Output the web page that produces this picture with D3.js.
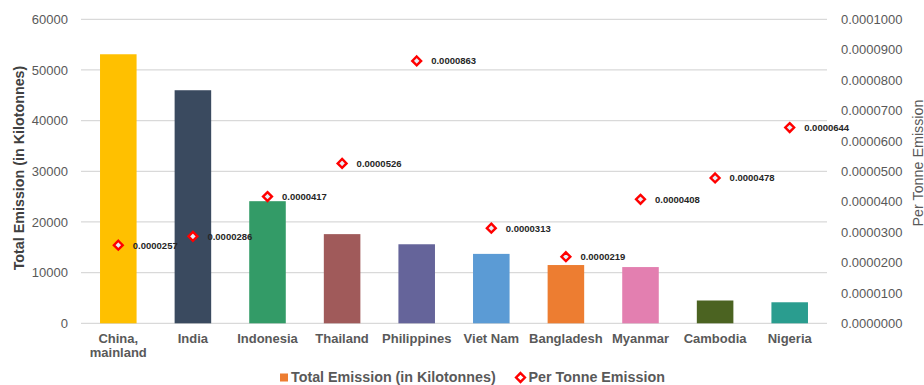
<!DOCTYPE html>
<html>
<head>
<meta charset="utf-8">
<script src="https://cdn.jsdelivr.net/npm/d3@7"></script>
<style>
  html, body { margin: 0; padding: 0; background: #fff; }
  svg { display: block; font-family: "Liberation Sans", Arial, sans-serif; }
</style>
</head>
<body>
<svg id="chart" width="924" height="385"></svg>
<script>
// Countries along the x axis (a line break in a name is written as "\n")
const categories = ["China,\nmainland", "India", "Indonesia", "Thailand", "Philippines",
                    "Viet Nam", "Bangladesh", "Myanmar", "Cambodia", "Nigeria"];
// Total emission, kilotonnes (bars, left axis)
const totalEmission = [53100, 46000, 24100, 17600, 15600, 13700, 11500, 11100, 4500, 4150];
// Emission per tonne (markers, right axis)
const perTonne = [0.0000257, 0.0000286, 0.0000417, 0.0000526, 0.0000863,
                  0.0000313, 0.0000219, 0.0000408, 0.0000478, 0.0000644];
// One fill per bar
const barColors = ["#FFC000", "#3A4A5F", "#339B67", "#A05A5A", "#65649A",
                   "#5B9BD5", "#ED7D31", "#E37FB0", "#4B6321", "#2A9D8F"];
const leftTicks = [0, 10000, 20000, 30000, 40000, 50000, 60000];
const rightTicks = [0, 0.00001, 0.00002, 0.00003, 0.00004, 0.00005,
                    0.00006, 0.00007, 0.00008, 0.00009, 0.0001];
const seriesNames = ["Total Emission (in Kilotonnes)", "Per Tonne Emission"];

const svg = d3.select("#chart");
const plot = { left: 81, right: 827, top: 19.3, bottom: 323.3 };
const axisGrey = "#595959";

const x = d3.scaleBand().domain(categories).range([plot.left, plot.right]).paddingInner(0.51).paddingOuter(0.255);
const yL = d3.scaleLinear().domain([0, 60000]).range([plot.bottom, plot.top]);
const yR = d3.scaleLinear().domain([0, 0.0001]).range([plot.bottom, plot.top]);

// Horizontal gridlines at the left-axis ticks
svg.append("g").selectAll("line").data(leftTicks).join("line")
  .attr("x1", plot.left).attr("x2", plot.right)
  .attr("y1", d => yL(d)).attr("y2", d => yL(d))
  .attr("stroke", "#D9D9D9").attr("stroke-width", 1.3);

// Left axis
const leftAxis = svg.append("g").attr("transform", `translate(${plot.left},0)`)
  .call(d3.axisLeft(yL).tickValues(leftTicks).tickSize(0).tickPadding(13).tickFormat(d3.format("d")));
leftAxis.select(".domain").remove();
leftAxis.selectAll("text").attr("font-size", 13).attr("fill", axisGrey)
  .attr("font-family", "Liberation Sans, Arial, sans-serif");

// Right axis
const rightAxis = svg.append("g").attr("transform", `translate(${plot.right},0)`)
  .call(d3.axisRight(yR).tickValues(rightTicks).tickSize(0).tickPadding(14).tickFormat(d3.format(".7f")));
rightAxis.select(".domain").remove();
rightAxis.selectAll("text").attr("font-size", 13).attr("fill", axisGrey)
  .attr("font-family", "Liberation Sans, Arial, sans-serif");

// Bars
svg.append("g").selectAll("rect").data(categories).join("rect")
  .attr("x", d => x(d)).attr("width", x.bandwidth())
  .attr("y", (d, i) => yL(totalEmission[i]))
  .attr("height", (d, i) => plot.bottom - yL(totalEmission[i]))
  .attr("fill", (d, i) => barColors[i]);

// Category labels
const catG = svg.append("g");
categories.forEach(c => {
  const lines = c.split("\n");
  const t = catG.append("text")
    .attr("x", x(c) + x.bandwidth() / 2).attr("y", 343)
    .attr("text-anchor", "middle").attr("font-size", 13).attr("font-weight", "bold")
    .attr("fill", axisGrey);
  lines.forEach((ln, k) => t.append("tspan")
    .attr("x", x(c) + x.bandwidth() / 2).attr("dy", k === 0 ? 0 : 13.5).text(ln));
});

// Diamond markers with value labels
const diamond = d3.symbol().type(d3.symbolDiamond2).size(50);
const mk = svg.append("g");
categories.forEach((c, i) => {
  const cx = x(c) + x.bandwidth() / 2, cy = yR(perTonne[i]);
  mk.append("path").attr("d", diamond()).attr("transform", `translate(${cx},${cy})`)
    .attr("fill", "#E6EEF7").attr("stroke", "#FF0000").attr("stroke-width", 2.4);
  mk.append("text").attr("x", cx + 14.5).attr("y", cy + 3.4)
    .attr("font-size", 9.5).attr("font-weight", "bold").attr("fill", "#262626")
    .text(d3.format(".7f")(perTonne[i]));
});

// Axis titles
svg.append("text").attr("transform", "translate(24,168) rotate(-90)")
  .attr("text-anchor", "middle").attr("font-size", 14.3).attr("font-weight", "bold")
  .attr("fill", "#404040").text("Total Emission (in Kilotonnes)");
svg.append("text").attr("transform", "translate(922.5,163) rotate(-90)")
  .attr("text-anchor", "middle").attr("font-size", 14.3)
  .attr("fill", axisGrey).text("Per Tonne Emission");

// Legend
const lg = svg.append("g");
lg.append("rect").attr("x", 280).attr("y", 373.5).attr("width", 8).attr("height", 8).attr("fill", "#ED7D31");
lg.append("text").attr("x", 291).attr("y", 382).attr("font-size", 14.3).attr("font-weight", "bold")
  .attr("fill", axisGrey).text(seriesNames[0]);
lg.append("path").attr("d", diamond()).attr("transform", "translate(520.5,377.5)")
  .attr("fill", "#fff").attr("stroke", "#FF0000").attr("stroke-width", 2.4);
lg.append("text").attr("x", 528.5).attr("y", 382).attr("font-size", 14.3).attr("font-weight", "bold")
  .attr("fill", axisGrey).text(seriesNames[1]);
</script>
</body>
</html>
